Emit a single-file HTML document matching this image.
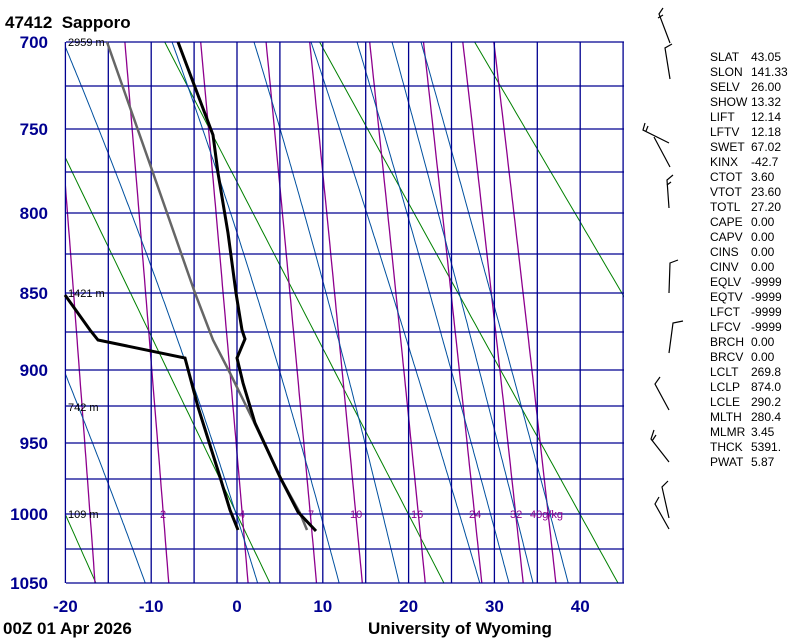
<!DOCTYPE html>
<html><head><meta charset="utf-8"><style>
html,body{margin:0;padding:0;background:#fff;}
svg{display:block;}
text{font-family:"Liberation Sans",sans-serif;}
</style></head><body>
<svg id="s" width="800" height="640" xmlns="http://www.w3.org/2000/svg">
<defs><clipPath id="c"><rect x="66" y="42" width="558" height="541"/></clipPath></defs>
<g id="bg" clip-path="url(#c)"></g>
<g id="grid"></g>
<g id="fg"></g>
<text x="5" y="28" font-size="17" font-weight="bold">47412&#160;&#160;Sapporo</text>
<text x="3" y="634" font-size="17" font-weight="bold">00Z 01 Apr 2026</text>
<text x="368" y="634" font-size="17" font-weight="bold">University of Wyoming</text>
<g font-size="11" fill="#000">
<text x="68" y="46">2959 m</text>
<text x="68" y="297">1421 m</text>
<text x="68" y="411">742 m</text>
<text x="68" y="518">109 m</text>
</g>
<g id="mrl" font-size="11" fill="#8e008e">
<text x="160" y="518">2</text><text x="239" y="518">4</text><text x="308" y="518">7</text>
<text x="350" y="518">10</text><text x="411" y="518">16</text><text x="469" y="518">24</text>
<text x="510" y="518">32</text><text x="530" y="518">40g/kg</text>
</g>
<g id="barbs" stroke="#000" stroke-width="1.2" fill="none">
<polyline points="663,8 659,14 670,43"/><line x1="658" y1="18" x2="663" y2="15"/>
<polyline points="672,44 665,48 670,79"/>
<polyline points="645,123 643,130 669,143"/><line x1="646" y1="131" x2="648" y2="126"/><polyline points="654,137 670,167"/>
<polyline points="673,175 667,180 669,208"/><line x1="667" y1="185" x2="671" y2="182"/>
<polyline points="678,260 670,263 669,293"/>
<polyline points="683,321 673,323 669,353"/>
<polyline points="660,377 655,384 669,410"/>
<polyline points="654,430 651,439 669,462"/><line x1="652" y1="441" x2="656" y2="435"/>
<polyline points="668,481 662,487 669,518"/>
<polyline points="659,497 655,504 669,529"/>
</g>
<g id="panel" font-size="12" fill="#000"></g>
</svg>
<script>
var NS="http://www.w3.org/2000/svg";
function el(parent,tag,attrs,txt){var e=document.createElementNS(NS,tag);for(var k in attrs)e.setAttribute(k,attrs[k]);if(txt!==undefined)e.textContent=txt;document.getElementById(parent).appendChild(e);return e;}
var K=0.286,a0=Math.pow(700,K),a1=Math.pow(1050,K);
function Y(p){return 42+(Math.pow(p,K)-a0)/(a1-a0)*541;}
function X(t){return 237+t*8.58;}
function poly(pts,col,w,g){el(g||"bg","polyline",{points:pts.map(function(q){return q[0].toFixed(1)+","+q[1].toFixed(1)}).join(" "),fill:"none",stroke:col,"stroke-width":w});}
[253.15,273.15,293.15,313.15,333.15].forEach(function(th){var pts=[];for(var p=690;p<=1060;p+=5){pts.push([X(th*Math.pow(p/1000,K)-273.15),Y(p)]);}poly(pts,"#008000",1);});
[1,2,4,7,10,16,24,32,40].forEach(function(w){var pts=[];for(var p=690;p<=1060;p+=5){var e=w*p/(622+w);var l=Math.log(e/6.112);var t=243.5*l/(17.67-l);pts.push([X(t),Y(p)]);}poly(pts,"#8e008e",1.3);});
function es(t){return 6.112*Math.exp(17.67*t/(t+243.5));}
function dTdp(T,p){var t=T-273.15;var rs=0.622*es(t)/(p-es(t));var Lv=2.5e6,Rd=287,cp=1004;return (Rd*T+Lv*rs)/(p*(cp+Lv*Lv*rs*0.622/(Rd*T*T)));}
function moist(t0,topx){var pts=[];var T=t0+273.15+dTdp(t0+273.15,1050)*10,p=1060,x700=null;
 while(p>=680){var x=X(T-273.15);pts.push([x,Y(p),p]);if(Math.abs(p-700)<1)x700=x;T-=dTdp(T,p)*2;p-=2;}
 if(topx!==null&&x700!==null){var d=topx-x700;pts=pts.map(function(q){var f=(583-q[1])/541;return [q[0]+d*f,q[1]];});}
 return pts;}
[[-10.7,null],[2.4,null],[11.9,172],[18.9,254],[28.3,311],[31.7,357],[34.5,392],[38.6,421]].forEach(function(a){poly(moist(a[0],a[1]),"#00509f",1);});
for(var t=-20;t<=45;t+=5){el("grid","line",{x1:X(t),y1:42,x2:X(t),y2:583,stroke:"#000090","stroke-width":1.3});}
[42,86,129,172,213,254,293,332,370,406,443,479,514,549,583].forEach(function(y){el("grid","line",{x1:66,y1:y,x2:624,y2:y,stroke:"#000090","stroke-width":1.3});});
[[700,42],[750,129],[800,213],[850,293],[900,370],[950,443],[1000,514],[1050,583]].forEach(function(a){el("grid","text",{x:48,y:a[1]+6,"font-size":17,"font-weight":"bold",fill:"#000090","text-anchor":"end"},a[0]);});
[-20,-10,0,10,20,30,40].forEach(function(t){el("grid","text",{x:X(t),y:612,"font-size":17,"font-weight":"bold",fill:"#000090","text-anchor":"middle"},t);});
poly([[107,42],[152,170],[195,293],[213,340],[230,373],[253,420],[280,477],[300,513],[307,530]],"#666",2.5,"fg");
poly([[178,42],[213,135],[218,173],[228,233],[236,293],[242,330],[245,339],[237,358],[243,383],[255,423],[280,477],[298,512],[316,531]],"#000",3,"fg");
poly([[65,295],[90,330],[98,340],[185,358],[198,407],[220,477],[230,510],[238,530]],"#000",3,"fg");
var rows=[["SLAT","43.05"],["SLON","141.33"],["SELV","26.00"],["SHOW","13.32"],["LIFT","12.14"],["LFTV","12.18"],["SWET","67.02"],["KINX","-42.7"],["CTOT","3.60"],["VTOT","23.60"],["TOTL","27.20"],["CAPE","0.00"],["CAPV","0.00"],["CINS","0.00"],["CINV","0.00"],["EQLV","-9999"],["EQTV","-9999"],["LFCT","-9999"],["LFCV","-9999"],["BRCH","0.00"],["BRCV","0.00"],["LCLT","269.8"],["LCLP","874.0"],["LCLE","290.2"],["MLTH","280.4"],["MLMR","3.45"],["THCK","5391."],["PWAT","5.87"]];
rows.forEach(function(r,i){var y=61+i*15.0;el("panel","text",{x:710,y:y},r[0]);el("panel","text",{x:751,y:y},r[1]);});
</script>
</body></html>
